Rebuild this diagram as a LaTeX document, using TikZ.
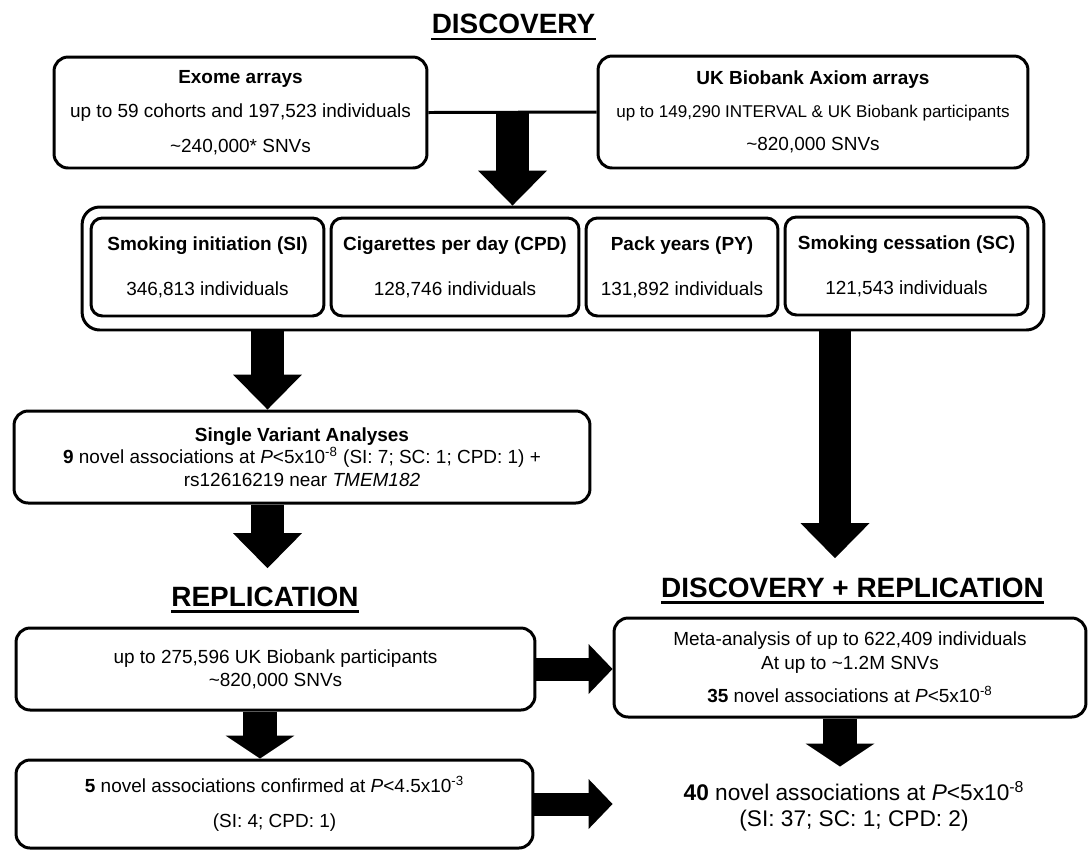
\documentclass[tikz,border=0pt]{standalone}
\usepackage{fontspec}
\setmainfont{Liberation Sans}
\usetikzlibrary{arrows.meta, calc}
\newcommand{\txtsize}[1]{\fontsize{10.8}{#1}\selectfont}
\tikzset{
  box/.style={draw, line width=1.7pt, rounded corners=8pt, align=center, inner sep=0pt},
  cell/.style={draw, line width=1.7pt, rounded corners=6.5pt, align=center, inner sep=0pt,
    minimum height=1.96cm, font=\txtsize{25.5}},
  heading/.style={font=\bfseries\fontsize{15.9}{18}\selectfont, inner sep=0pt, anchor=base},
  rule/.style={line width=1.4pt},
  bigarrow/.style={line width=0.65cm, -{Triangle[width=1.38cm, length=0.7cm, line width=0pt]}},
  shortarrow/.style={line width=0.68cm, -{Triangle[width=1.38cm, length=0.46cm, line width=0pt]}},
  sidearrow/.style={line width=0.46cm, -{Triangle[width=1cm, length=0.48cm, line width=0pt]}}
}

\begin{document}
\begin{tikzpicture}[x=0.02cm, y=-0.02cm]
\useasboundingbox (0,0) rectangle (1088,850);
% discovery
\node[heading] (disc) at (513.5,33) {DISCOVERY};
\draw[rule] ([yshift=-3.4pt]disc.base west) -- ([yshift=-3.4pt]disc.base east);
\node[box, minimum width=7.46cm, minimum height=2.22cm, font=\txtsize{19.6}] (exome) at (240.5,112.5)
  {\textbf{Exome arrays}\\ up to 59 cohorts and 197,523 individuals\\ \textasciitilde 240,000* SNVs};
\node[box, minimum width=8.6cm, minimum height=2.24cm, font=\txtsize{18.7}] (uk) at (813,112)
  {\textbf{UK Biobank Axiom arrays}\\ {\fontsize{9.7}{18.7}\selectfont up to 149,290 INTERVAL \& UK Biobank participants}\\ \textasciitilde 820,000 SNVs};
\draw[line width=1.7pt] (exome.east) -- (uk.west);
\coordinate (mid) at ($(exome.east)!0.5!(uk.west)$);
\node[box, rounded corners=10pt, minimum width=19.24cm, minimum height=2.46cm] (panel) at (563,268.5) {};
\node[cell, minimum width=4.66cm] (si) at (207.5,267) {\textbf{Smoking initiation (SI)}\\ 346,813 individuals};
\node[cell, minimum width=4.96cm] (cpd) at (455,267) {\textbf{Cigarettes per day (CPD)}\\ 128,746 individuals};
\node[cell, minimum width=3.84cm] (py) at (682,267) {\textbf{Pack years (PY)}\\ 131,892 individuals};
\node[cell, minimum width=4.86cm] (sc) at (906.5,266) {\textbf{Smoking cessation (SC)}\\ 121,543 individuals};
\node[box, minimum width=11.52cm, minimum height=1.84cm, font=\txtsize{12.8}] (sva) at (302,457)
  {\textbf{Single Variant Analyses}\\ \textbf{9} novel associations at \textit{P}<5x10\textsuperscript{-8} (SI: 7; SC: 1; CPD: 1) +\\ rs12616219 near \textit{TMEM182}};
% replication
\node[heading] (rep) at (265,606) {REPLICATION};
\draw[rule] ([yshift=-3.2pt]rep.base west) -- ([yshift=-3.2pt]rep.base east);
\node[box, minimum width=10.38cm, minimum height=1.64cm, font=\txtsize{13}] (rep1) at (275.5,669)
  {up to 275,596 UK Biobank participants\\ \textasciitilde 820,000 SNVs};
\node[box, minimum width=10.34cm, minimum height=1.76cm, font=\txtsize{19.8}] (rep2) at (274.5,804)
  {\textbf{5} novel associations confirmed at \textit{P}<4.5x10\textsuperscript{-3}\\ (SI: 4; CPD: 1)};
% discovery + replication
\node[heading] (both) at (852.5,597) {DISCOVERY + REPLICATION};
\draw[rule] ([yshift=-3.2pt]both.base west) -- ([yshift=-3.2pt]both.base east);
\node[box, minimum width=9.44cm, minimum height=1.98cm, font=\txtsize{13.6}] (meta) at (850,667.5)
  {Meta-analysis of up to 622,409 individuals\\ At up to \textasciitilde 1.2M SNVs\\[5pt] \textbf{35} novel associations at \textit{P}<5x10\textsuperscript{-8}};
\node[align=center, inner sep=0pt, font=\fontsize{12.9}{14.7}\selectfont] (final) at (854,806.5)
  {\textbf{40} novel associations at \textit{P}<5x10\textsuperscript{-8}\\ (SI: 37; SC: 1; CPD: 2)};
% arrows
\coordinate (lx) at (267.5,0);
\coordinate (rx) at (835,0);
\coordinate (dx) at (260,0);
\coordinate (mx) at (840,0);
\draw[bigarrow] (mid) -- (mid |- panel.north);
\draw[bigarrow] (lx |- panel.south) -- (lx |- sva.north);
\draw[bigarrow, shorten >=0.36cm] (lx |- sva.south) -- (lx |- rep.north);
\draw[bigarrow, shorten >=0.38cm] (rx |- panel.south) -- (rx |- both.north);
\draw[shortarrow] (dx |- rep1.south) -- (dx |- rep2.north);
\draw[shortarrow, shorten >=0.3cm] (mx |- meta.south) -- (mx |- final.north);
\draw[sidearrow] (rep1.east) -- (rep1.east -| meta.west);
\draw[sidearrow] (rep2.east) -- (rep2.east -| meta.west);
\end{tikzpicture}
\end{document}
